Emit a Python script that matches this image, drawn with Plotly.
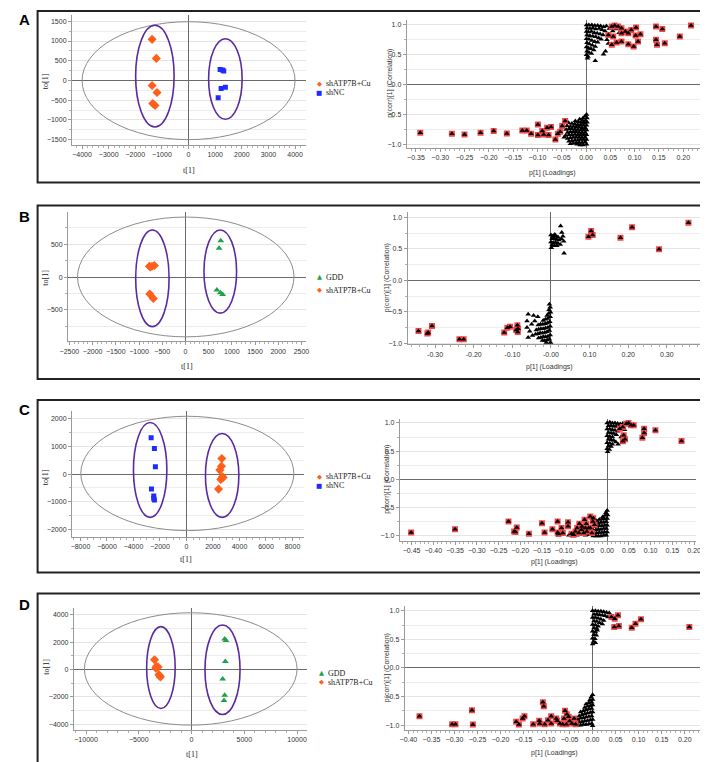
import plotly.graph_objects as go

W, H = 708, 762
def px(x): return x / W
def py(y): return 1 - y / H

# ---------------- score plot data (t[1], to[1]) ----------------
A_t_cu = [-1370, -1210, -1370, -1185, -1346, -1259]
A_to_cu = [1042, 559, -127, -305, -585, -636]
A_t_nc = [1185, 1272, 1321, 1222, 1383, 1111]
A_to_nc = [280, 263, 237, -203, -170, -441]

B_t_gdd = [761, 726, 677, 754, 803]
B_to_gdd = [553, 440, -196, -238, -264]
B_t_cu = [-775, -719, -669, -754, -768, -691]
B_to_cu = [165, 165, 176, 155, -259, -326]

C_t_cu = [2667, 2642, 2519, 2716, 2593, 2420, 2765]
C_to_cu = [565, 288, 144, -96, -192, -541, -120]
C_t_nc = [-2667, -2420, -2346, -2642, -2469, -2420, -2469]
C_to_nc = [1309, 925, 264, -541, -793, -937, -877]

D_t_gdd = [3137, 3261, 3199, 2950, 3137, 3075]
D_to_gdd = [2230, 2109, 582, -703, -1891, -2279]
D_t_cu = [-3509, -3323, -3168, -3385, -3106, -2950, -3012]
D_to_cu = [703, 218, 170, 97, -388, -558, -461]

# Hotelling T2 ellipse [x0, x1, y0, y1] and group ellipses
A_hot = [-4000, 4000, -1500, 1490]
A_groups = [[-1988, -543, -1178, 1398], [753, 2012, -983, 1059]]
B_hot = [-2325, 2340, -910, 915]
B_groups = [[-1072, -352, -754, 718], [400, 1103, -548, 718]]
C_hot = [-7975, 8100, -2042, 2090]
C_groups = [[-4000, -1481, -1562, 1862], [1432, 3951, -1562, 1465]]
D_hot = [-10155, 10000, -4073, 4145]
D_groups = [[-4255, -1553, -2861, 3127], [1273, 4596, -3297, 3248]]

# ---------------- loading plot data (p[1], p(corr)[1]) ----------------
A_red = [(-0.341,-0.806),(-0.276,-0.822),(-0.250,-0.833),(-0.217,-0.806),(-0.190,-0.778),(-0.163,-0.817),
         (-0.131,-0.767),(-0.122,-0.767),(-0.113,-0.822),(-0.099,-0.667),(-0.099,-0.844),(-0.090,-0.778),
         (-0.087,-0.833),(-0.080,-0.722),(-0.072,-0.711),(-0.077,-0.844),(-0.063,-0.917),(-0.058,-0.822),
         (-0.053,-0.789),(-0.049,-0.694),(-0.043,-0.611),
         (0.046,0.833),(0.053,0.972),(0.059,0.989),(0.066,0.972),(0.073,0.944),(0.056,0.806),(0.073,0.861),
         (0.081,0.889),(0.087,0.861),(0.093,0.917),(0.103,0.956),(0.112,0.844),(0.102,0.822),(0.107,0.722),
         (0.098,0.639),(0.087,0.678),(0.073,0.722),(0.063,0.706),(0.053,0.667),(0.144,0.972),(0.157,0.933),
         (0.144,0.750),(0.146,0.667),(0.162,0.694),(0.193,0.806),(0.216,0.989)]
A_blk = [(0.001,1.00),(0.006,1.00),(0.012,1.00),(0.018,0.99),(0.024,0.99),(0.030,0.98),(0.036,0.97),(0.042,0.98),
         (0.002,0.95),(0.008,0.94),(0.014,0.95),(0.020,0.93),(0.027,0.94),(0.033,0.92),(0.039,0.90),
         (0.001,0.89),(0.005,0.88),(0.011,0.89),(0.017,0.87),(0.023,0.86),(0.029,0.85),(0.035,0.83),
         (0.002,0.83),(0.008,0.82),(0.014,0.81),(0.020,0.80),(0.026,0.78),(0.031,0.76),
         (0.001,0.77),(0.006,0.76),(0.012,0.74),(0.018,0.72),(0.024,0.71),
         (0.002,0.70),(0.007,0.68),(0.013,0.66),(0.019,0.64),
         (0.001,0.63),(0.005,0.61),(0.010,0.60),(0.016,0.58),
         (0.002,0.56),(0.006,0.54),(0.011,0.52),(0.001,0.50),(0.004,0.47),(0.003,0.44),
         (0.019,0.40),(0.036,0.51),(0.040,0.56),(0.043,0.75),(0.048,0.94),(0.055,0.90),(0.062,0.93),
         (0.068,0.87),(0.046,0.69),
         (0.001,-0.50),(-0.002,-0.53),(0.002,-0.56),(-0.006,-0.56),(-0.001,-0.60),(-0.007,-0.60),(-0.013,-0.58),
         (0.002,-0.63),(-0.004,-0.64),(-0.010,-0.63),(-0.016,-0.62),(-0.022,-0.61),
         (0.001,-0.68),(-0.005,-0.68),(-0.011,-0.67),(-0.017,-0.67),(-0.023,-0.66),(-0.029,-0.65),(-0.036,-0.64),
         (-0.002,-0.72),(-0.008,-0.72),(-0.014,-0.71),(-0.020,-0.71),(-0.026,-0.70),(-0.032,-0.70),(-0.039,-0.69),
         (0.001,-0.76),(-0.005,-0.76),(-0.011,-0.76),(-0.017,-0.75),(-0.023,-0.75),(-0.029,-0.74),(-0.035,-0.74),(-0.041,-0.75),
         (-0.002,-0.80),(-0.008,-0.80),(-0.014,-0.80),(-0.020,-0.79),(-0.026,-0.79),(-0.032,-0.79),(-0.038,-0.80),
         (0.001,-0.84),(-0.005,-0.84),(-0.011,-0.84),(-0.017,-0.84),(-0.023,-0.83),(-0.029,-0.84),(-0.035,-0.84),(-0.042,-0.85),
         (-0.002,-0.88),(-0.008,-0.88),(-0.014,-0.88),(-0.020,-0.88),(-0.026,-0.88),(-0.032,-0.89),(-0.038,-0.90),
         (0.001,-0.92),(-0.005,-0.92),(-0.011,-0.92),(-0.017,-0.93),(-0.023,-0.93),(-0.029,-0.94),(-0.035,-0.95),
         (-0.002,-0.96),(-0.008,-0.97),(-0.014,-0.97),(-0.020,-0.98),(-0.026,-0.98),(-0.032,-0.99),
         (0.001,-1.00),(-0.006,-1.01),(-0.012,-1.01),(-0.018,-1.00),(-0.048,-0.72),(-0.045,-0.88)]

B_red = [(-0.343,-0.807),(-0.320,-0.849),(-0.318,-0.833),(-0.308,-0.727),(-0.237,-0.940),(-0.226,-0.940),
         (-0.121,-0.833),(-0.113,-0.754),(-0.106,-0.738),(-0.087,-0.717),(-0.085,-0.770),(-0.086,-0.823),
         (-0.090,-0.790),(0.097,0.695),(0.104,0.786),(0.108,0.722),(0.180,0.679),(0.210,0.844),
         (0.280,0.494),(0.356,0.918)]
B_blk = [(0.000,0.72),(0.006,0.71),(0.012,0.70),(0.018,0.69),(0.003,0.66),(0.009,0.66),(0.015,0.65),(0.021,0.64),
         (0.000,0.61),(0.006,0.60),(0.012,0.60),(0.018,0.59),(0.003,0.56),(0.009,0.55),(0.015,0.55),(0.001,0.52),
         (0.025,0.865),(0.028,0.76),(0.031,0.70),(0.027,0.66),(0.033,0.62),(0.034,0.43),(0.024,0.57),(0.004,0.69),
         (0.010,0.73),
         (-0.004,-0.38),(-0.002,-0.43),(-0.005,-0.47),(-0.001,-0.51),(-0.006,-0.53),(-0.010,-0.56),
         (-0.002,-0.58),(-0.008,-0.61),(-0.014,-0.62),(-0.020,-0.64),
         (-0.003,-0.66),(-0.009,-0.68),(-0.015,-0.69),(-0.021,-0.70),(-0.027,-0.70),(-0.033,-0.71),
         (-0.002,-0.73),(-0.008,-0.75),(-0.014,-0.76),(-0.020,-0.77),(-0.026,-0.77),(-0.032,-0.78),(-0.038,-0.79),
         (-0.004,-0.80),(-0.010,-0.82),(-0.016,-0.83),(-0.022,-0.84),(-0.028,-0.84),(-0.034,-0.85),(-0.040,-0.86),
         (-0.002,-0.87),(-0.008,-0.89),(-0.014,-0.90),(-0.020,-0.90),(-0.026,-0.91),(-0.032,-0.92),
         (-0.004,-0.94),(-0.010,-0.95),(-0.016,-0.96),(-0.022,-0.96),(-0.001,-0.99),(-0.012,-0.99),
         (-0.059,-0.54),(-0.045,-0.56),(-0.034,-0.58),(-0.062,-0.65),(-0.050,-0.70),(-0.062,-0.75),
         (-0.055,-0.81),(-0.059,-0.91),(-0.048,-0.88),(-0.042,-0.65)]

C_red = [(-0.451,-0.938),(-0.350,-0.880),(-0.227,-0.745),(-0.214,-0.921),(-0.211,-0.933),(-0.208,-0.850),
         (-0.180,-0.962),(-0.150,-0.774),(-0.144,-0.938),(-0.126,-0.880),(-0.114,-0.745),(-0.114,-0.940),
         (-0.112,-0.968),(-0.105,-0.862),(-0.102,-0.950),(-0.090,-0.760),(-0.090,-0.830),(-0.082,-0.962),
         (-0.073,-0.920),(-0.069,-0.862),(-0.064,-0.786),(-0.058,-0.833),(-0.052,-0.716),(-0.048,-0.786),
         (-0.043,-0.862),(-0.039,-0.657),(-0.033,-0.745),(-0.029,-0.804),(-0.077,-0.979),(-0.065,-0.950),
         (-0.054,-0.950),(-0.047,-0.920),(-0.035,-0.950),(-0.059,-0.891),(-0.050,-0.862),(-0.039,-0.862),
         (-0.032,-0.686),
         (0.029,0.897),(0.036,0.927),(0.044,0.985),(0.049,0.997),(0.055,0.956),(0.061,0.956),(0.038,0.780),
         (0.041,0.710),(0.036,0.675),(0.081,0.739),(0.085,0.897),(0.085,0.821),(0.111,0.868),(0.171,0.680)]
C_blk = [(0.000,1.00),(0.006,1.01),(0.012,1.00),(0.018,1.00),(0.024,0.99),(0.030,0.98),(0.036,0.99),
         (0.003,0.95),(0.009,0.95),(0.015,0.94),(0.021,0.94),(0.027,0.93),(0.033,0.91),
         (0.000,0.89),(0.006,0.89),(0.012,0.88),(0.018,0.87),(0.024,0.85),
         (0.003,0.83),(0.009,0.82),(0.015,0.81),(0.021,0.79),
         (0.000,0.77),(0.006,0.76),(0.012,0.75),(0.003,0.71),(0.009,0.70),(0.015,0.69),
         (0.000,0.65),(0.006,0.64),(0.012,0.62),(0.003,0.59),(0.009,0.58),
         (0.000,0.54),(0.005,0.53),(0.001,0.49),(0.025,0.62),(0.032,0.75),(0.020,0.66),(0.040,0.88),
         (0.000,-0.55),(-0.003,-0.59),(0.001,-0.63),(-0.005,-0.64),(-0.010,-0.66),
         (0.000,-0.69),(-0.006,-0.70),(-0.012,-0.70),(-0.018,-0.71),(-0.024,-0.73),
         (-0.002,-0.75),(-0.008,-0.76),(-0.014,-0.76),(-0.020,-0.77),(-0.026,-0.78),
         (0.000,-0.81),(-0.006,-0.81),(-0.012,-0.82),(-0.018,-0.82),(-0.024,-0.83),(-0.030,-0.84),
         (-0.002,-0.87),(-0.008,-0.87),(-0.014,-0.88),(-0.020,-0.88),(-0.026,-0.89),(-0.032,-0.90),
         (0.000,-0.93),(-0.006,-0.93),(-0.012,-0.94),(-0.018,-0.94),(-0.024,-0.95),(-0.030,-0.95),(-0.036,-0.96),
         (-0.002,-0.99),(-0.008,-0.99),(-0.014,-1.00),(-0.020,-1.00),(-0.026,-1.00),(-0.032,-1.00),
         (-0.042,-0.98),(-0.050,-0.99),(-0.060,-0.98),(-0.070,-0.99),(-0.080,-1.00),(-0.088,-0.99),
         (-0.045,-0.90),(-0.055,-0.93)]

D_red = [(-0.376,-0.843),(-0.305,-0.983),(-0.298,-0.983),(-0.262,-0.738),(-0.260,-0.988),(-0.166,-0.942),
         (-0.160,-0.988),(-0.152,-0.884),(-0.148,-0.843),(-0.129,-0.983),(-0.116,-0.924),(-0.115,-0.971),
         (-0.108,-0.599),(-0.106,-0.669),(-0.104,-0.983),(-0.090,-0.843),(-0.090,-0.971),(-0.079,-0.884),
         (-0.077,-0.924),(-0.071,-0.971),(-0.062,-0.884),(-0.060,-0.750),(-0.056,-0.808),(-0.052,-0.855),
         (-0.050,-0.930),(-0.045,-0.971),(-0.040,-0.884),(-0.065,-0.983),(-0.057,-0.983),(-0.037,-0.983),
         (-0.097,-0.913),
         (0.041,0.890),(0.048,0.860),(0.055,0.919),(0.047,0.715),(0.057,0.733),(0.085,0.703),(0.093,0.773),
         (0.105,0.849),(0.210,0.715)]
D_blk = [(0.000,1.00),(0.006,1.00),(0.012,0.99),(0.018,0.99),(0.024,0.98),(0.030,0.97),(0.036,0.96),
         (0.003,0.94),(0.009,0.94),(0.015,0.93),(0.021,0.92),(0.027,0.91),(0.033,0.89),
         (0.000,0.88),(0.006,0.88),(0.012,0.87),(0.018,0.85),(0.024,0.83),
         (0.003,0.82),(0.009,0.81),(0.015,0.79),(0.021,0.77),
         (0.000,0.76),(0.006,0.75),(0.012,0.73),(0.003,0.70),(0.009,0.69),
         (0.000,0.64),(0.006,0.63),(0.010,0.66),(0.003,0.58),(0.008,0.57),
         (0.000,0.52),(0.005,0.51),(0.002,0.46),(0.006,0.44),(0.000,0.42),
         (0.000,-0.47),(-0.003,-0.51),(0.000,-0.55),(-0.006,-0.56),
         (-0.002,-0.60),(-0.008,-0.61),(-0.014,-0.63),(0.000,-0.65),
         (-0.005,-0.66),(-0.011,-0.67),(-0.017,-0.69),(-0.002,-0.71),(-0.008,-0.72),(-0.014,-0.73),
         (-0.020,-0.75),(-0.026,-0.77),
         (0.000,-0.77),(-0.005,-0.78),(-0.011,-0.79),(-0.017,-0.80),(-0.023,-0.82),(-0.029,-0.84),
         (-0.002,-0.84),(-0.008,-0.85),(-0.014,-0.86),(-0.020,-0.87),(-0.026,-0.88),(-0.032,-0.90),
         (0.000,-0.90),(-0.005,-0.91),(-0.011,-0.92),(-0.017,-0.93),(-0.023,-0.94),(-0.029,-0.95),(-0.035,-0.96),
         (-0.002,-0.97),(-0.008,-0.98),(-0.014,-0.99),(-0.020,-0.99),(-0.026,-1.00),(-0.032,-1.00),(0.000,-1.01)]

ORANGE, BLUE, GREEN, PURPLE = "#ff5f1a", "#1f2bff", "#1fa24a", "#5a2aa0"
TICKFONT = dict(family="Liberation Sans", size=7, color="#333")

fig = go.Figure()
layout = dict(width=W, height=H, margin=dict(l=0, r=0, t=0, b=0),
              paper_bgcolor="white", plot_bgcolor="white", showlegend=False)
shapes, annotations = [], []

def axkey(kind, i):
    return f"{kind}axis" if i == 1 else f"{kind}axis{i}"

def ref(kind, i):
    return kind if i == 1 else f"{kind}{i}"

def set_axes(i, dx, dy, xr, yr, xdt, ydt, xminor, yminor, xfmt="d", yfmt="d", xtv=None, xtt=None):
    xa = dict(domain=[px(dx[0]), px(dx[1])], range=xr, anchor=ref("y", i), showline=True,
              linecolor="#9a9a9a", linewidth=1, ticks="outside", ticklen=3, tickcolor="#9a9a9a",
              showgrid=False, zeroline=True, zerolinecolor="#6a6a6a", zerolinewidth=1,
              tickfont=TICKFONT, fixedrange=True,
              minor=dict(ticks="outside", ticklen=2, tickcolor="#b0b0b0", dtick=xminor))
    if xtv is not None:
        xa.update(tickmode="array", tickvals=xtv, ticktext=xtt)
    else:
        xa.update(tick0=0, dtick=xdt, tickformat=xfmt)
    ya = dict(domain=[py(dy[1]), py(dy[0])], range=yr, anchor=ref("x", i), showline=True,
              linecolor="#9a9a9a", linewidth=1, ticks="outside", ticklen=3, tickcolor="#9a9a9a",
              showgrid=True, gridcolor="#e4e4e4", gridwidth=1, zeroline=True, zerolinecolor="#6a6a6a",
              zerolinewidth=1, tick0=0, dtick=ydt, tickformat=yfmt, tickfont=TICKFONT, fixedrange=True,
              minor=dict(ticks="outside", ticklen=2, tickcolor="#b0b0b0", dtick=yminor,
                         showgrid=True, gridcolor="#ececec"))
    layout[axkey("x", i)] = xa
    layout[axkey("y", i)] = ya

def ellipses(i, hot, groups):
    x0, x1, y0, y1 = hot
    shapes.append(dict(type="circle", xref=ref("x", i), yref=ref("y", i), x0=x0, x1=x1, y0=y0, y1=y1,
                       line=dict(color="#8c8c8c", width=1)))
    for g in groups:
        shapes.append(dict(type="circle", xref=ref("x", i), yref=ref("y", i), x0=g[0], x1=g[1], y0=g[2], y1=g[3],
                           line=dict(color=PURPLE, width=1.6)))

def score_trace(i, x, y, color, symbol, size):
    fig.add_trace(go.Scatter(x=x, y=y, mode="markers", xaxis=ref("x", i), yaxis=ref("y", i),
                             marker=dict(color=color, symbol=symbol, size=size, line=dict(width=0)),
                             hoverinfo="skip"))

def loading_traces(i, red, blk):
    fig.add_trace(go.Scatter(x=[p[0] for p in blk], y=[p[1] for p in blk], mode="markers",
                             xaxis=ref("x", i), yaxis=ref("y", i),
                             marker=dict(color="black", symbol="triangle-up", size=5, line=dict(width=0)),
                             hoverinfo="skip"))
    fig.add_trace(go.Scatter(x=[p[0] for p in red], y=[p[1] for p in red], mode="markers",
                             xaxis=ref("x", i), yaxis=ref("y", i),
                             marker=dict(color="#f04848", symbol="square", size=6, line=dict(width=0)),
                             hoverinfo="skip"))
    fig.add_trace(go.Scatter(x=[p[0] for p in red], y=[p[1] for p in red], mode="markers",
                             xaxis=ref("x", i), yaxis=ref("y", i),
                             marker=dict(color="black", symbol="triangle-up", size=5, line=dict(width=0)),
                             hoverinfo="skip"))

def text(x, y, s, size=8, family="Liberation Serif", color="#222", angle=0, xanchor="center"):
    annotations.append(dict(x=px(x), y=py(y), xref="paper", yref="paper", text=s, showarrow=False,
                            xanchor=xanchor, yanchor="middle", textangle=angle,
                            font=dict(family=family, size=size, color=color)))

def legend_item(x, y, glyph, color, label):
    text(x, y, glyph, size=6.5, family="DejaVu Sans", color=color)
    text(x + 5, y, label, size=8, family="Liberation Serif", color="#222", xanchor="left")

# ---------------- panel boxes & letters ----------------
for (top, bot), letter, ly in zip([(3, 175), (198, 372), (393, 566), (587, 760)], "ABCD", [12, 209, 403, 598]):
    shapes.append(dict(type="rect", xref="paper", yref="paper", x0=px(22), x1=px(702), y0=py(bot), y1=py(top),
                       line=dict(color="#222", width=2), layer="below"))
    text(9, ly, f"<b>{letter}</b>", size=15, family="Liberation Sans", color="black")

# ---------------- A ----------------
set_axes(1, (57, 295), (7, 137), [-4380, 4395], [-1627, 1660], 1000, 500, 200, 250)
ellipses(1, A_hot, A_groups)
score_trace(1, A_t_cu, A_to_cu, ORANGE, "diamond", 7)
score_trace(1, A_t_nc, A_to_nc, BLUE, "square", 5)
set_axes(2, (398, 700), (12, 140), [-0.369, 0.241], [-1.055, 1.083], 0.05, 0.5, 0.01, 0.25, ".2f", ".1f")
loading_traces(2, A_red, A_blk)
text(30, 73, "to[1]", angle=-90)
text(176, 163, "t[1]")
legend_item(309, 76, "◆", ORANGE, "shATP7B+Cu")
legend_item(309, 85, "■", BLUE, "shNC")
text(381, 76, "p(corr)[1] (Correlation)", size=7, family="Liberation Sans", color="#333", angle=-90)
text(547, 165, "p[1] (Loadings)", size=7, family="Liberation Sans", color="#333")

# ---------------- B ----------------
set_axes(3, (53, 295), (205, 334), [-2530, 2590], [-975, 985], 500, 500, 100, 250)
ellipses(3, B_hot, B_groups)
score_trace(3, B_t_gdd, B_to_gdd, GREEN, "triangle-up", 6)
score_trace(3, B_t_cu, B_to_cu, ORANGE, "diamond", 7)
set_axes(4, (399, 698), (205, 337), [-0.371, 0.389], [-1.016, 1.08], 0.1, 0.5, 0.02, 0.25, None, ".1f",
         xtv=[-0.3, -0.2, -0.1, 0.0, 0.1, 0.2, 0.3],
         xtt=["-0.30", "-0.20", "-0.10", "-0.00", "0.10", "0.20", "0.30"])
loading_traces(4, B_red, B_blk)
text(30, 270, "to[1]", angle=-90)
text(174, 359, "t[1]")
legend_item(309, 270, "▲", GREEN, "GDD")
legend_item(309, 283, "◆", ORANGE, "shATP7B+Cu")
text(378, 271, "p(corr)[1] (Correlation)", size=7, family="Liberation Sans", color="#333", angle=-90)
text(543, 360, "p[1] (Loadings)", size=7, family="Liberation Sans", color="#333")

# ---------------- C ----------------
set_axes(5, (57, 293), (404, 530), [-8642, 8840], [-2258, 2282], 2000, 1000, 500, 500)
ellipses(5, C_hot, C_groups)
score_trace(5, C_t_cu, C_to_cu, ORANGE, "diamond", 7)
score_trace(5, C_t_nc, C_to_nc, BLUE, "square", 5)
set_axes(6, (391, 693), (412, 534), [-0.477, 0.205], [-1.083, 1.07], 0.05, 0.5, 0.01, 0.25, ".2f", ".1f")
loading_traces(6, C_red, C_blk)
text(30, 470, "to[1]", angle=-90)
text(173, 553, "t[1]")
legend_item(309, 470, "◆", ORANGE, "shATP7B+Cu")
legend_item(309, 479, "■", BLUE, "shNC")
text(378, 473, "p(corr)[1] (Correlation)", size=7, family="Liberation Sans", color="#333", angle=-90)
text(549, 555, "p[1] (Loadings)", size=7, family="Liberation Sans", color="#333")

# ---------------- D ----------------
set_axes(7, (59, 296), (602, 724), [-11149, 10900], [-4436, 4461], 5000, 2000, 1000, 1000)
ellipses(7, D_hot, D_groups)
score_trace(7, D_t_gdd, D_to_gdd, GREEN, "triangle-up", 6)
score_trace(7, D_t_cu, D_to_cu, ORANGE, "diamond", 7)
set_axes(8, (396, 700), (600, 724), [-0.408, 0.24], [-1.087, 1.075], 0.05, 0.5, 0.01, 0.25, ".2f", ".1f")
loading_traces(8, D_red, D_blk)
text(31, 660, "to[1]", angle=-90)
text(179, 748, "t[1]")
legend_item(311, 667, "▲", GREEN, "GDD")
legend_item(311, 676, "◆", ORANGE, "shATP7B+Cu")
text(378, 662, "p(corr)[1] (Correlation)", size=7, family="Liberation Sans", color="#333", angle=-90)
text(549, 747, "p[1] (Loadings)", size=7, family="Liberation Sans", color="#333")

layout["shapes"] = shapes
layout["annotations"] = annotations
fig.update_layout(**layout)
fig.write_html("out.html")
